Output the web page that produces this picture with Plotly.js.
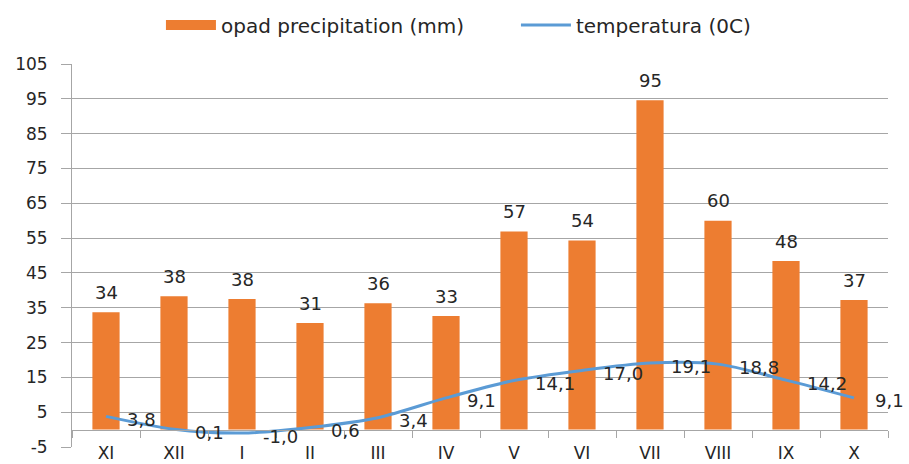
<!DOCTYPE html>
<html>
<head>
<meta charset="utf-8">
<script src="https://cdn.plot.ly/plotly-3.0.1.min.js"></script>
<style>html,body{margin:0;padding:0;background:#fff;}#chart{width:909px;height:464px;}</style>
</head>
<body>
<div id="chart"></div>
<script>
const months = ['XI','XII','I','II','III','IV','V','VI','VII','VIII','IX','X'];
const precipitation = [33.7, 38.3, 37.5, 30.6, 36.3, 32.6, 56.9, 54.3, 94.6, 60.0, 48.4, 37.2];
const precipitationLabels = ['34','38','38','31','36','33','57','54','95','60','48','37'];
const temperature = [3.8, 0.1, -1.0, 0.6, 3.4, 9.1, 14.1, 17.0, 19.1, 18.8, 14.2, 9.1];
const temperatureLabels = ['3,8','0,1','-1,0','0,6','3,4','9,1','14,1','17,0','19,1','18,8','14,2','9,1'];
const yTicks = [-5, 5, 15, 25, 35, 45, 55, 65, 75, 85, 95, 105];

const FAMILY = 'DejaVu Sans, Verdana, sans-serif';
const INK = '#262626';
const grid = '#a6a6a6';
const yRange = [-5, 105];

const traces = [
  {
    type: 'bar', name: 'opad precipitation (mm)', showlegend: false,
    x: months, y: precipitation, xaxis: 'x', yaxis: 'y',
    marker: {color: '#ED7D31', line: {width: 0}}, width: 0.4,
    hoverinfo: 'skip'
  },
  {
    /* legend key for the bars (wide Excel-style swatch); draws nothing in the plot */
    type: 'scatter', mode: 'lines', name: 'opad precipitation (mm)',
    x: months, y: precipitation.map(() => null), xaxis: 'x', yaxis: 'y',
    line: {color: '#ED7D31', width: 12}, hoverinfo: 'skip'
  },
  {
    type: 'scatter', mode: 'lines', name: 'temperatura (0C)',
    x: months, y: temperature, xaxis: 'x2', yaxis: 'y',
    line: {color: '#5B9BD5', width: 3, shape: 'spline', smoothing: 0.8},
    hoverinfo: 'skip'
  }
];

const annotations = [];
months.forEach((m, i) => {
  annotations.push({
    x: m, y: precipitation[i], xref: 'x', yref: 'y',
    text: precipitationLabels[i], showarrow: false,
    xanchor: 'center', yanchor: 'middle', yshift: 20,
    font: {family: FAMILY, size: 18, color: INK}
  });
  annotations.push({
    x: m, y: temperature[i], xref: 'x2', yref: 'y',
    text: temperatureLabels[i], showarrow: false,
    xanchor: 'left', yanchor: 'middle', xshift: 19, yshift: -3,
    font: {family: FAMILY, size: 18, color: INK}
  });
});

const layout = {
  width: 909, height: 464,
  margin: {l: 72, r: 21, t: 64, b: 17, autoexpand: false},
  paper_bgcolor: '#ffffff', plot_bgcolor: '#ffffff',
  showlegend: true,
  legend: {
    orientation: 'h', x: 0.109, xanchor: 'left', y: 1.102, yanchor: 'middle',
    font: {family: FAMILY, size: 20, color: INK},
    itemwidth: 50, entrywidth: 290, tracegroupgap: 0
  },
  bargap: 0.6,
  xaxis: {
    type: 'category', categoryorder: 'array', categoryarray: months,
    range: [-0.5, 11.5], showgrid: false, showline: false, zeroline: false,
    ticks: '', tickfont: {family: FAMILY, size: 17, color: INK},
    ticklabelstandoff: -6, fixedrange: true, automargin: false
  },
  xaxis2: {
    type: 'category', categoryorder: 'array', categoryarray: months,
    range: [-0.5, 11.5], overlaying: 'x', anchor: 'free',
    position: (0 - yRange[0]) / (yRange[1] - yRange[0]),
    showgrid: false, showline: true, linecolor: grid, linewidth: 1,
    ticks: 'outside', tickson: 'boundaries', ticklen: 7, tickcolor: grid,
    showticklabels: false, zeroline: false, fixedrange: true
  },
  yaxis: {
    range: yRange, tickvals: yTicks, ticktext: yTicks.map(String),
    showgrid: true, gridcolor: grid, gridwidth: 1,
    showline: true, linecolor: grid, linewidth: 1,
    ticks: 'outside', ticklen: 10, tickcolor: grid, ticklabelstandoff: 10,
    zeroline: false, tickfont: {family: FAMILY, size: 17, color: INK},
    fixedrange: true, automargin: false
  },
  annotations: annotations
};

Plotly.newPlot('chart', traces, layout, {displayModeBar: false, staticPlot: true});
</script>
</body>
</html>
